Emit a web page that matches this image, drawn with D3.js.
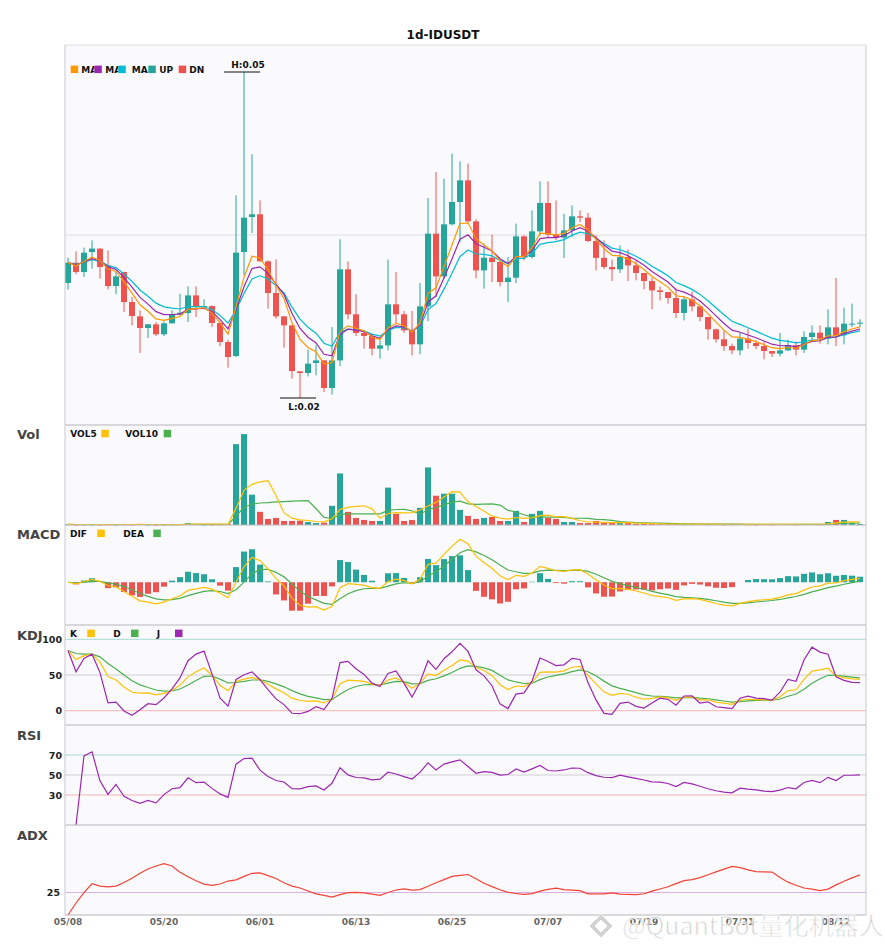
<!DOCTYPE html>
<html>
<head>
<meta charset="utf-8">
<script src="https://cdn.jsdelivr.net/npm/d3@7"></script>
<style>
  body { margin: 0; background: #fff; }
  svg { display: block; font-family: "DejaVu Sans", sans-serif; }
</style>
</head>
<body>
<svg width="885" height="950"></svg>
<script>
// daily candles, 2023-05-08 .. 2023-08-15
var opens = [
  .03062,.03249,.03163,.03347,.03378,.03224,.03034,.03163,.02887,.02755,
  .02648,.02682,.02590,.02691,.02774,.02786,.02948,.02841,.02850,.02694,
  .02519,.02390,.03347,.03669,.03694,.03261,.02970,.02755,.02672,.02249,
  .02234,.02326,.02350,.02096,.02350,.03188,.02774,.02602,.02574,.02458,
  .02488,.02866,.02774,.02626,.02498,.02847,.03516,.03123,.03602,.03807,
  .04006,.03629,.03178,.03295,.03255,.03071,.03111,.03491,.03301,.03537,
  .03798,.03507,.03479,.03546,.03675,.03663,.03448,.03293,.03209,.03188,
  .03301,.03224,.03154,.03080,.02994,.02979,.02924,.02786,.02912,.02847,
  .02749,.02636,.02544,.02482,.02442,.02550,.02510,.02482,.02436,.02412,
  .02442,.02488,.02449,.02565,.02605,.02550,.02654,.02580,.02682,.02688
];
var highs = [
  .03295,.03353,.03387,.03454,.03382,.03362,.03169,.03165,.02933,.02810,
  .02684,.02703,.02709,.02810,.02964,.03031,.03031,.02912,.02856,.02703,
  .02541,.03868,.05003,.04246,.03822,.03270,.03280,.02757,.02674,.02252,
  .02449,.02488,.02352,.02657,.03464,.03261,.02958,.02617,.02596,.02534,
  .03277,.03163,.02804,.02804,.03062,.03844,.04083,.04022,.04252,.04181,
  .04160,.03648,.03424,.03507,.03258,.03301,.03608,.03500,.03730,.03997,
  .03997,.03822,.03700,.03776,.03730,.03706,.03500,.03454,.03277,.03408,
  .03369,.03270,.03156,.03111,.03031,.02980,.03010,.02942,.02985,.02849,
  .02751,.02642,.02626,.02504,.02605,.02642,.02534,.02519,.02437,.02602,
  .02541,.02525,.02617,.02672,.02672,.02820,.03108,.02835,.02872,.02728
];
var lows = [
  .03001,.03142,.03117,.03194,.03102,.03004,.02958,.02795,.02672,.02418,
  .02556,.02574,.02574,.02689,.02764,.02703,.02749,.02820,.02657,.02479,
  .02283,.02381,.03132,.03522,.03259,.02826,.02734,.02467,.02182,.02004,
  .02203,.02212,.02059,.02035,.02298,.02728,.02574,.02458,.02396,.02366,
  .02442,.02694,.02602,.02396,.02406,.02709,.02933,.03102,.03592,.03439,
  .03617,.03105,.03010,.03071,.03031,.02887,.03062,.03270,.03286,.03500,
  .03485,.03454,.03292,.03485,.03623,.03439,.03178,.03188,.03080,.03154,
  .03080,.03086,.03004,.02820,.02902,.02872,.02740,.02718,.02801,.02709,
  .02541,.02513,.02436,.02406,.02396,.02458,.02452,.02360,.02381,.02387,
  .02436,.02396,.02418,.02519,.02504,.02498,.02482,.02498,.02657,.02657
];
var closes = [
  .03249,.03163,.03341,.03378,.03209,.03034,.03123,.02887,.02758,.02648,
  .02682,.02590,.02691,.02774,.02789,.02948,.02841,.02850,.02694,.02519,
  .02381,.03341,.03663,.03694,.03261,.02970,.02755,.02672,.02252,.02234,
  .02320,.02350,.02096,.02350,.03188,.02774,.02602,.02574,.02458,.02488,
  .02866,.02774,.02626,.02498,.02847,.03516,.03123,.03602,.03807,.04006,
  .03629,.03178,.03295,.03255,.03071,.03111,.03491,.03301,.03537,.03798,
  .03507,.03479,.03546,.03675,.03663,.03448,.03293,.03209,.03188,.03301,
  .03224,.03154,.03080,.02994,.02979,.02924,.02786,.02912,.02847,.02749,
  .02636,.02544,.02482,.02442,.02550,.02510,.02482,.02436,.02412,.02442,
  .02488,.02449,.02565,.02605,.02550,.02654,.02580,.02688,.02688,.02697
];
// volume, millions
var volumes = [
  0.6,0.4,0.5,0.4,0.5,0.6,0.4,0.6,0.5,0.7,
  0.4,0.3,0.4,0.5,0.7,1.8,0.9,0.4,0.5,0.6,
  0.8,80,90,30,13,6,7,4,4,4.3,
  3,2,2.3,19,51,13,7,5,4,4,
  37,11,4,5,17,57,29,31,31,15,
  9,6,7,8,4,4,14,3,11,14,
  7,6,3,3,2,2,4,2,2,2,
  2,1,1,1,0.8,0.9,1,0.7,0.8,0.9,
  0.7,0.8,0.6,0.7,0.8,0.6,0.5,0.7,0.6,0.8,
  0.7,0.6,0.9,0.8,0.7,3,5,5,2,1
];
var dates = d3.timeDay.range(new Date(2023, 4, 8), new Date(2023, 7, 16));
var dateTicks = [0, 12, 24, 36, 48, 60, 72, 84, 96];
var kdjTicks = [0, 50, 100];
var rsiTicks = [30, 50, 70];
var adxTicks = [25];

var UP = "#26a69a", DN = "#ef5350";
var n = closes.length, idx = d3.range(n);

// ---- indicators ----
function ma(arr, p) {
  return arr.map(function (d, i) { return d3.mean(arr.slice(Math.max(0, i - p + 1), i + 1)); });
}
function ema(arr, p) {
  var k = 2 / (p + 1), out = [];
  arr.forEach(function (v, i) { out.push(i ? out[i - 1] + k * (v - out[i - 1]) : v); });
  return out;
}
var maFast = ema(closes, 5), maMid = ema(closes, 7), maSlow = ema(closes, 10);
var vol5 = ma(volumes, 5), vol10 = ma(volumes, 10);

var eFast = ema(closes, 6), eSlow = ema(closes, 13);
var dif = idx.map(function (i) { return eFast[i] - eSlow[i]; });
var dea = ema(dif, 5);
var hist = idx.map(function (i) { return 2 * (dif[i] - dea[i]); });

var kArr = [], dArr = [], jArr = [];
idx.forEach(function (i) {
  var s = Math.max(0, i - 8);
  var hh = d3.max(highs.slice(s, i + 1)), ll = d3.min(lows.slice(s, i + 1));
  var rsv = hh > ll ? (closes[i] - ll) / (hh - ll) * 100 : 50;
  var k = i ? (2 * kArr[i - 1] + rsv) / 3 : rsv;
  var d = i ? (2 * dArr[i - 1] + k) / 3 : k;
  kArr.push(k); dArr.push(d); jArr.push(3 * k - 2 * d);
});

var rsi = [null], ag = 0, al = 0;
for (var i = 1; i < n; i++) {
  var ch = closes[i] - closes[i - 1];
  ag += (Math.max(ch, 0) - ag) / 14;
  al += (Math.max(-ch, 0) - al) / 14;
  rsi.push(ag + al ? 100 * ag / (ag + al) : 50);
}

var adx = [], a = 2 / 15, sTr = 0, sP = 0, sM = 0, ax = 0;
idx.forEach(function (i) {
  var tr = highs[i] - lows[i], pdm = 0, mdm = 0;
  if (i) {
    var up = highs[i] - highs[i - 1], dn = lows[i - 1] - lows[i];
    pdm = up > dn && up > 0 ? up : 0;
    mdm = dn > up && dn > 0 ? dn : 0;
    tr = Math.max(tr, Math.abs(highs[i] - closes[i - 1]), Math.abs(lows[i] - closes[i - 1]));
  }
  sTr += a * (tr - sTr); sP += a * (pdm - sP); sM += a * (mdm - sM);
  var pdi = sP / sTr, mdi = sM / sTr;
  var dx = pdi + mdi ? Math.abs(pdi - mdi) / (pdi + mdi) * 100 : 0;
  ax = i ? ax + a * (dx - ax) : 0;
  adx.push(ax);
});

// ---- layout ----
var svg = d3.select("svg");
var L = 65, R = 866;
var panels = {
  main: [45, 425], vol: [425, 525], macd: [525, 625],
  kdj: [625, 725], rsi: [725, 825], adx: [825, 915]
};

var x = d3.scaleBand().domain(idx).range([64, 864]).paddingInner(0.25).paddingOuter(0.125);
function cx(i) { return x(i) + x.bandwidth() / 2; }

var yP = d3.scaleLinear().domain([d3.min(lows), d3.max(highs)]).range([panels.main[1] - 27, panels.main[0] + 27]);
var yV = d3.scaleLinear().domain([0, d3.max(volumes) * 1.1]).range([panels.vol[1], panels.vol[0]]);
var mExt = d3.extent(dif.concat(dea, hist)), mPad = (mExt[1] - mExt[0]) * 0.2;
var yM = d3.scaleLinear().domain([mExt[0] - mPad, mExt[1] + mPad]).range([panels.macd[1], panels.macd[0]]);
var yK = d3.scaleLinear().domain([-20, 120]).range([panels.kdj[1], panels.kdj[0]]);
var yR = d3.scaleLinear().domain([0, 100]).range([panels.rsi[1], panels.rsi[0]]);
var yA = d3.scaleLinear().domain([0, 100]).range([panels.adx[1], panels.adx[0]]);

// backgrounds
Object.keys(panels).forEach(function (k) {
  svg.append("rect").attr("x", L).attr("y", panels[k][0]).attr("width", R - L)
    .attr("height", panels[k][1] - panels[k][0]).attr("fill", "#fafafc");
});

svg.append("text").attr("x", 443).attr("y", 39).attr("text-anchor", "middle")
  .attr("font-weight", "bold").attr("font-size", 12).attr("fill", "#111").text("1d-IDUSDT");

// grid / reference lines
function hline(yv, color) {
  svg.append("line").attr("x1", L).attr("x2", R).attr("y1", yv).attr("y2", yv)
    .attr("stroke", color).attr("stroke-width", 1);
}
hline((panels.main[0] + panels.main[1]) / 2, "#dcdce4");
hline(yK(100), "#a8d8d4"); hline(yK(50), "#cfcfd4"); hline(yK(0), "#f6b3b3");
hline(yR(70), "#a8d8d4"); hline(yR(50), "#cfcfd4"); hline(yR(30), "#f6b3b3");
hline(yA(25), "#dcaee6");

// ---- candles ----
var cg = svg.append("g");
function col(i) { return closes[i] >= opens[i] ? UP : DN; }
cg.selectAll("line.wick").data(idx).join("line").attr("class", "wick")
  .attr("x1", cx).attr("x2", cx)
  .attr("y1", function (i) { return yP(highs[i]); })
  .attr("y2", function (i) { return yP(lows[i]); })
  .attr("stroke", col).attr("stroke-width", 1);
cg.selectAll("rect.body").data(idx).join("rect").attr("class", "body")
  .attr("x", function (i) { return x(i); })
  .attr("width", x.bandwidth())
  .attr("y", function (i) { return yP(Math.max(opens[i], closes[i])); })
  .attr("height", function (i) { return Math.max(1, Math.abs(yP(opens[i]) - yP(closes[i]))); })
  .attr("fill", col);

function drawLine(arr, yS, color, w) {
  var line = d3.line().defined(function (d) { return d != null; })
    .x(function (d, i) { return cx(i); }).y(function (d) { return yS(d); });
  svg.append("path").datum(arr).attr("d", line).attr("fill", "none")
    .attr("stroke", color).attr("stroke-width", w || 1.2);
}
drawLine(maSlow, yP, "#00bcd4");
drawLine(maMid, yP, "#9c27b0");
drawLine(maFast, yP, "#ff9800");

// high / low markers
var hi = d3.maxIndex(highs), lo = d3.minIndex(lows);
svg.append("line").attr("x1", cx(hi) - 20).attr("x2", cx(hi) + 16)
  .attr("y1", yP(highs[hi])).attr("y2", yP(highs[hi])).attr("stroke", "#111");
svg.append("text").attr("x", cx(hi) + 4).attr("y", yP(highs[hi]) - 4).attr("text-anchor", "middle")
  .attr("font-size", 9).attr("font-weight", "bold").attr("fill", "#111").text("H:" + highs[hi].toFixed(2));
svg.append("line").attr("x1", cx(lo) - 20).attr("x2", cx(lo) + 16)
  .attr("y1", yP(lows[lo])).attr("y2", yP(lows[lo])).attr("stroke", "#111");
svg.append("text").attr("x", cx(lo) + 4).attr("y", yP(lows[lo]) + 12).attr("text-anchor", "middle")
  .attr("font-size", 9).attr("font-weight", "bold").attr("fill", "#111").text("L:" + lows[lo].toFixed(2));

// ---- volume ----
svg.append("g").selectAll("rect").data(idx).join("rect")
  .attr("x", function (i) { return x(i); }).attr("width", x.bandwidth())
  .attr("y", function (i) { return yV(volumes[i]); })
  .attr("height", function (i) { return Math.max(0.8, yV(0) - yV(volumes[i])); })
  .attr("fill", col);
drawLine(vol10, yV, "#4caf50");
drawLine(vol5, yV, "#ffc107");

// ---- macd ----
svg.append("g").selectAll("rect").data(idx).join("rect")
  .attr("x", function (i) { return x(i); }).attr("width", x.bandwidth())
  .attr("y", function (i) { return Math.min(yM(0), yM(hist[i])); })
  .attr("height", function (i) { return Math.abs(yM(hist[i]) - yM(0)); })
  .attr("fill", function (i) { return hist[i] >= 0 ? UP : DN; });
drawLine(dea, yM, "#4caf50");
drawLine(dif, yM, "#ffc107");

// ---- kdj / rsi / adx ----
drawLine(dArr, yK, "#4caf50");
drawLine(kArr, yK, "#ffc107");
drawLine(jArr, yK, "#9c27b0");
drawLine(rsi, yR, "#9c27b0");
drawLine(adx, yA, "#f44336");

// ---- frames ----
var frame = svg.append("g").attr("fill", "none");
frame.append("line").attr("x1", L).attr("x2", R).attr("y1", panels.main[0]).attr("y2", panels.main[0]).attr("stroke", "#dcdce2");
[425, 525, 625, 725, 825, 915].forEach(function (yv) {
  frame.append("line").attr("x1", L).attr("x2", R).attr("y1", yv).attr("y2", yv).attr("stroke", "#b4b4bc");
});
frame.append("line").attr("x1", L).attr("x2", L).attr("y1", 45).attr("y2", 915).attr("stroke", "#c8c8d0");
frame.append("line").attr("x1", R).attr("x2", R).attr("y1", 45).attr("y2", 915).attr("stroke", "#c8c8d0");

// ---- axes ----
function styleAxis(g, size, fill) {
  g.select(".domain").remove();
  g.selectAll("text").attr("font-size", size).attr("font-weight", "bold")
    .attr("fill", fill).attr("font-family", "DejaVu Sans");
}
svg.append("g").attr("transform", "translate(0,915)")
  .call(d3.axisBottom(x).tickValues(dateTicks).tickSize(0).tickPadding(4)
    .tickFormat(function (i) { return d3.timeFormat("%m/%d")(dates[i]); }))
  .call(styleAxis, 9, "#666");
svg.append("g").attr("transform", "translate(" + (L - 2) + ",0)")
  .call(d3.axisLeft(yK).tickValues(kdjTicks).tickSize(0).tickPadding(1)).call(styleAxis, 9.5, "#222");
svg.append("g").attr("transform", "translate(" + (L - 2) + ",0)")
  .call(d3.axisLeft(yR).tickValues(rsiTicks).tickSize(0).tickPadding(1)).call(styleAxis, 9.5, "#222");
svg.append("g").attr("transform", "translate(" + (L - 4) + ",0)")
  .call(d3.axisLeft(yA).tickValues(adxTicks).tickSize(0).tickPadding(1)).call(styleAxis, 9.5, "#222");

// panel titles
[["Vol", 439], ["MACD", 539], ["KDJ", 640], ["RSI", 740], ["ADX", 840]].forEach(function (t) {
  svg.append("text").attr("x", 17).attr("y", t[1]).attr("font-size", 13).attr("font-weight", "bold")
    .attr("fill", "#444").text(t[0]);
});

// ---- legends ----
var defs = svg.append("defs");
function legend(items, cy) {
  var g = svg.append("g").attr("font-size", 9).attr("font-weight", "bold").attr("fill", "#111");
  items.forEach(function (it, k) {
    g.append("rect").attr("x", it.sq).attr("y", cy - 3.7).attr("width", 7.5).attr("height", 7.5).attr("fill", it.c);
    var t = g.append("text").attr("x", it.tx).attr("y", cy + 3.3).text(it.t);
    var next = items[k + 1];
    if (next) {
      var id = "lgclip" + k;
      defs.append("clipPath").attr("id", id).append("rect")
        .attr("x", it.tx).attr("y", cy - 10).attr("width", next.sq - it.tx).attr("height", 20);
      t.attr("clip-path", "url(#" + id + ")");
    }
  });
}
legend([
  { t: "MA5", c: "#ff9800", sq: 70.7, tx: 81.3 },
  { t: "MA7", c: "#9c27b0", sq: 94.3, tx: 105.3 },
  { t: "MA10", c: "#00bcd4", sq: 118.3, tx: 131.7 },
  { t: "UP", c: UP, sq: 148.3, tx: 159.3 },
  { t: "DN", c: DN, sq: 178.7, tx: 189.3 }
], 69.3);
function legend2(items, cy) {
  var g = svg.append("g").attr("font-size", 9).attr("font-weight", "bold").attr("fill", "#111");
  items.forEach(function (it) {
    g.append("text").attr("x", it.tx).attr("y", cy + 3.3).text(it.t);
    g.append("rect").attr("x", it.sq).attr("y", cy - 3.7).attr("width", 7.5).attr("height", 7.5).attr("fill", it.c);
  });
}
legend2([{ t: "VOL5", c: "#ffc107", tx: 70.3, sq: 101.3 }, { t: "VOL10", c: "#4caf50", tx: 125.3, sq: 163.7 }], 433.5);
legend2([{ t: "DIF", c: "#ffc107", tx: 70, sq: 97.3 }, { t: "DEA", c: "#4caf50", tx: 123.3, sq: 153.3 }], 533.3);
legend2([{ t: "K", c: "#ffc107", tx: 70, sq: 87.3 }, { t: "D", c: "#4caf50", tx: 113.3, sq: 131 },
  { t: "J", c: "#9c27b0", tx: 156.7, sq: 175 }], 633.3);

// ---- watermark ----
var wm = svg.append("g").attr("opacity", 0.75);
wm.append("path").attr("d", "M601,914 L613,926 L601,938 L589,926 Z M601,920 L607,926 L601,932 L595,926 Z")
  .attr("fill", "#c4c4c4").attr("fill-rule", "evenodd").attr("stroke", "#fff").attr("stroke-width", 1);
wm.append("text").attr("x", 622).attr("y", 935).attr("font-size", 25)
  .attr("font-family", "'Noto Sans CJK SC', 'Noto Sans', sans-serif")
  .attr("fill", "#c4c4c4").attr("stroke", "#fff").attr("stroke-width", 0.8)
  .text("@QuantBot量化机器人");
</script>
</body>
</html>
